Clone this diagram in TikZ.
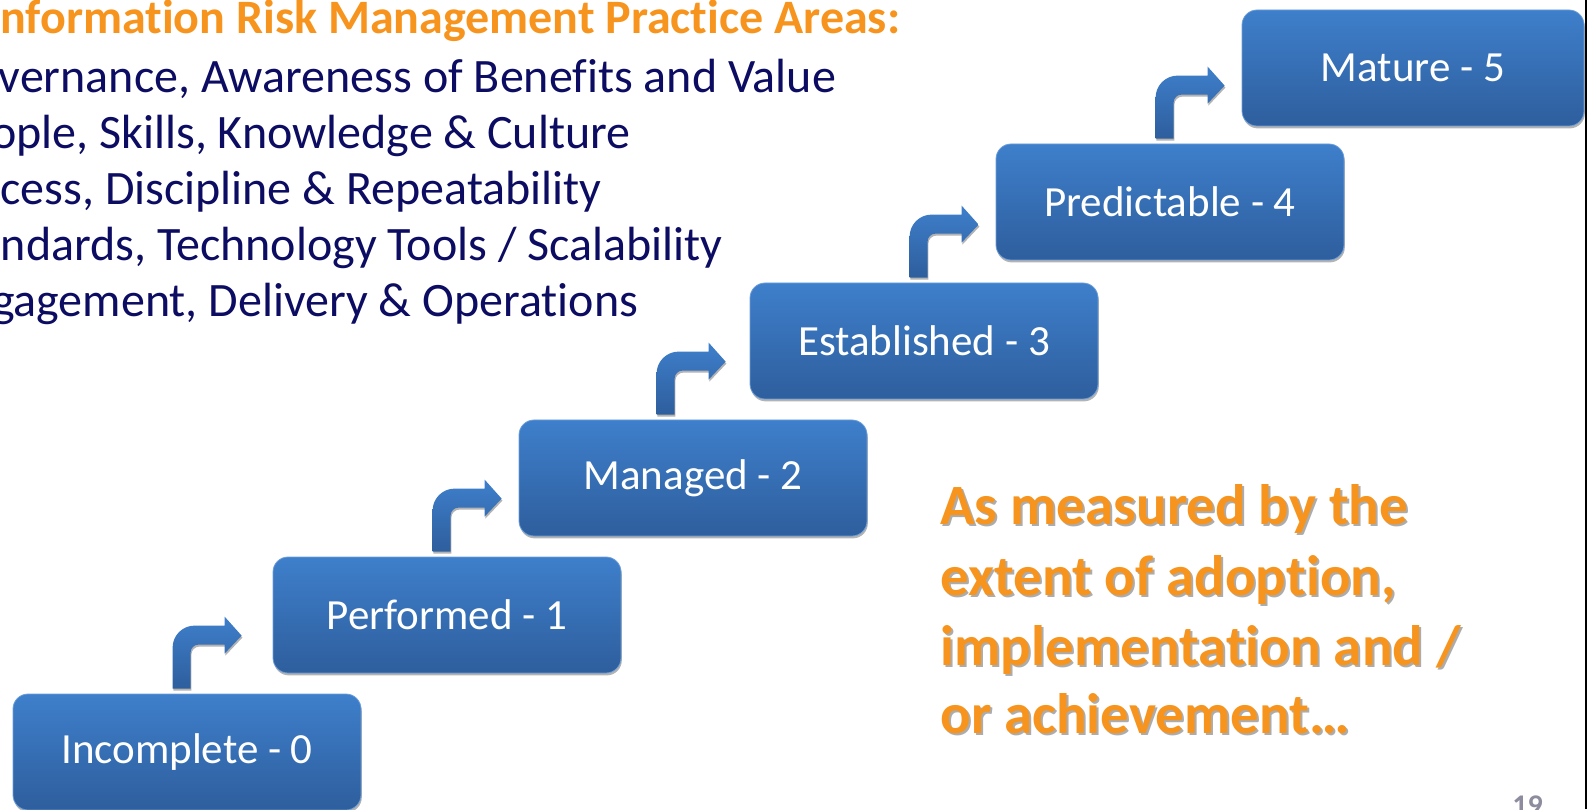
\documentclass[tikz,border=0pt]{standalone}
\usepackage{fontspec}
\setmainfont{Carlito}[Ligatures={NoCommon}]
\usetikzlibrary{shadows}

\definecolor{stageTop}{RGB}{62,127,203}
\definecolor{stageBottom}{RGB}{46,94,157}
\definecolor{areaNavy}{RGB}{12,12,98}
\definecolor{riskOrange}{RGB}{247,148,30}
\definecolor{noteShadow}{RGB}{172,172,172}
\definecolor{pageGray}{RGB}{140,140,158}

\tikzset{
  stage/.style={rectangle, rounded corners=7.5pt, minimum width=174pt,
    minimum height=58pt, inner sep=0pt, top color=stageTop,
    bottom color=stageBottom, draw=stageTop!75!white, line width=0.4pt,
    drop shadow={shadow xshift=0.4pt, shadow yshift=-1.2pt, opacity=0.6, fill=gray},
    text=white, font=\fontsize{21.5pt}{26pt}\selectfont},
  stagearrow/.style={top color=stageTop, bottom color=stageBottom,
    drop shadow={shadow xshift=0.4pt, shadow yshift=-1pt, opacity=0.6, fill=gray}},
  area/.style={anchor=base west, inner sep=0pt, text=areaNavy,
    font=\fontsize{24pt}{28pt}\selectfont},
  note/.style={anchor=base west, inner sep=0pt, text=riskOrange,
    font=\bfseries\fontsize{28.5pt}{34pt}\selectfont}
}

\newcommand{\stepup}[1]{%
  \path[stagearrow, #1] (160,5) -- (160,46)
    arc[start angle=180, end angle=90, radius=11pt] -- (212,68)
    -- (212,77) -- (229,58) -- (212,40) -- (212,49) -- (186,49)
    arc[start angle=90, end angle=180, radius=4pt] -- (178,5) -- cycle;}

\newcommand{\shadowed}[1]{%
  \rlap{\textcolor{noteShadow}{\kern1pt\raisebox{-1pt}{#1}}}#1}

\begin{document}
\begin{tikzpicture}[x=0.5pt, y=0.5pt]
                \useasboundingbox (0,0) rectangle (1588,809);
                \clip (0,0) rectangle (1588,809);

                \node[stage] (b0) at (187,57)   {Incomplete - 0};
                \node[stage] (b1) at (447,194)  {Performed - 1};
                \node[stage] (b2) at (693,331)  {Managed - 2};
                \node[stage] (b3) at (924,468)  {Established - 3};
                \node[stage] (b4) at (1170,607) {Predictable - 4};
                \node[stage, minimum width=171pt] 
                    (b5) at (1413,741) {Mature - 5};

                \stepup{shift={(b0.north west)}}
                \stepup{shift={(b1.north west)}}
                \stepup{shift={(b2.north west)}, xshift=-11pt}
                \stepup{shift={(b3.north west)}}
                \stepup{shift={(b4.north west)}}

                \node[area, text=riskOrange, font=\bfseries\fontsize{24pt}{28pt}\selectfont] 
                    (title) at (-13,775) {Information Risk Management Practice Areas:};
                \node[area] (a1) at (-57,716) {Governance, Awareness of Benefits and Value};
                \node[area] (a2) at (-57,660) {People, Skills, Knowledge \& Culture};
                \node[area] (a3) at (-66,604) {Process, Discipline \& Repeatability};
                \node[area] (a4) at (-60,548) {Standards, Technology Tools / Scalability};
                \node[area] (a5) at (-57,492) {Engagement, Delivery \& Operations};

                \node[note] (n1) at (940,285) {\shadowed{As measured by the}};
                \node[note] (n2) at (940,214) {\shadowed{extent of adoption,}};
                \node[note] (n3) at (940,144) {\shadowed{implementation and /}};
                \node[note] (n4) at (940,76)  {\shadowed{or achievement…}};

                \node[anchor=base west, inner sep=0pt, text=pageGray,
                    font=\bfseries\fontsize{15pt}{18pt}\selectfont] 
                    (page) at (1512,-6) {19};

                \draw[line width=1pt] (1586,0) -- (1586,809);
            \end{tikzpicture}
\end{document}
